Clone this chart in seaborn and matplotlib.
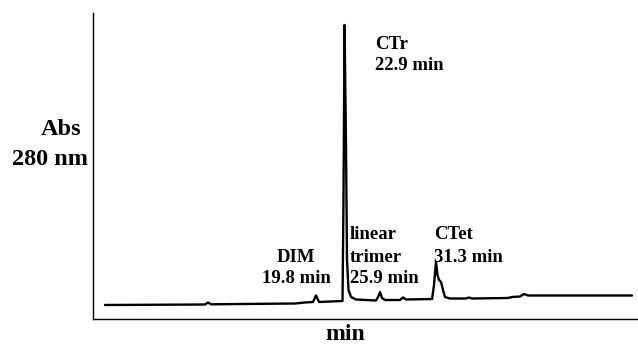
import numpy as np
import pandas as pd
import matplotlib
matplotlib.use("Agg")
import matplotlib.pyplot as plt
import seaborn as sns

tempo = [0.0, 9.38, 9.66, 9.94, 17.82, 18.76, 19.51, 19.79, 20.08, 22.28,
         22.37, 22.47, 22.61, 22.70, 22.84, 23.08, 23.55, 25.42, 25.61, 25.80,
         25.98, 26.27, 27.67, 27.95, 28.24, 30.68, 30.86, 31.05, 31.19, 31.33,
         31.52, 31.71, 31.89, 32.36, 33.86, 34.15, 34.43, 37.80, 38.18, 38.93,
         39.31, 39.68, 49.44]
absorb = [0.0, 0.5, 2.5, 0.7, 1.5, 2.5, 3.0, 9.5, 3.0, 4.0,
          105, 280, 155, 45, 15, 8, 5.5, 4.5, 8, 13,
          7, 5, 5, 7.5, 5.5, 6, 20, 43, 30, 25,
          23, 15, 8, 6.5, 6.5, 7.5, 6.5, 7, 8, 8.5,
          11, 9.5, 9.5]

picos = ["DIM\n19.8 min", "CTr\n22.9 min", "linear\ntrimer\n25.9 min", "CTet\n31.3 min"]

df = pd.DataFrame({"tempo": tempo, "abs": absorb})

sns.set_theme(style="white")
plt.rcParams["font.family"] = ["Liberation Serif", "DejaVu Serif"]
plt.rcParams["font.weight"] = "bold"

fig = plt.figure(figsize=(6.38, 3.45), dpi=100)
ax = fig.add_axes([93 / 638, 26 / 345, 545 / 638, 306 / 345])

sns.lineplot(data=df, x="tempo", y="abs", color="black", linewidth=1.7, ax=ax)

ax.set_xlim(-1.13, 50.0)
ax.set_ylim(-14, 292)
ax.set_xticks([])
ax.set_yticks([])
ax.set_xlabel("")
ax.set_ylabel("")
sns.despine(ax=ax)
for s in ["left", "bottom"]:
    ax.spines[s].set_color("black")
    ax.spines[s].set_linewidth(1.0)


def texto(x, y, s, size=13.5, ha="left"):
    fig.text(x / 638, 1 - y / 345, s, ha=ha, va="baseline", fontsize=size,
             fontweight="bold", color="black")


# rotulos dos picos (linhas separadas)
texto(296, 262, picos[0].split("\n")[0], ha="center")
texto(296, 283, picos[0].split("\n")[1], ha="center")
texto(375, 49, picos[1].split("\n")[0])
texto(375, 70, picos[1].split("\n")[1])
texto(350, 239, picos[2].split("\n")[0])
texto(350, 262, picos[2].split("\n")[1])
texto(350, 283, picos[2].split("\n")[2])
texto(434, 239, picos[3].split("\n")[0])
texto(434, 262, picos[3].split("\n")[1])

# eixos
texto(61, 135, "Abs", size=17.5, ha="center")
texto(50, 165, "280 nm", size=17.5, ha="center")
texto(345, 340, "min", size=17, ha="center")

fig.savefig("out.png", dpi=100)
